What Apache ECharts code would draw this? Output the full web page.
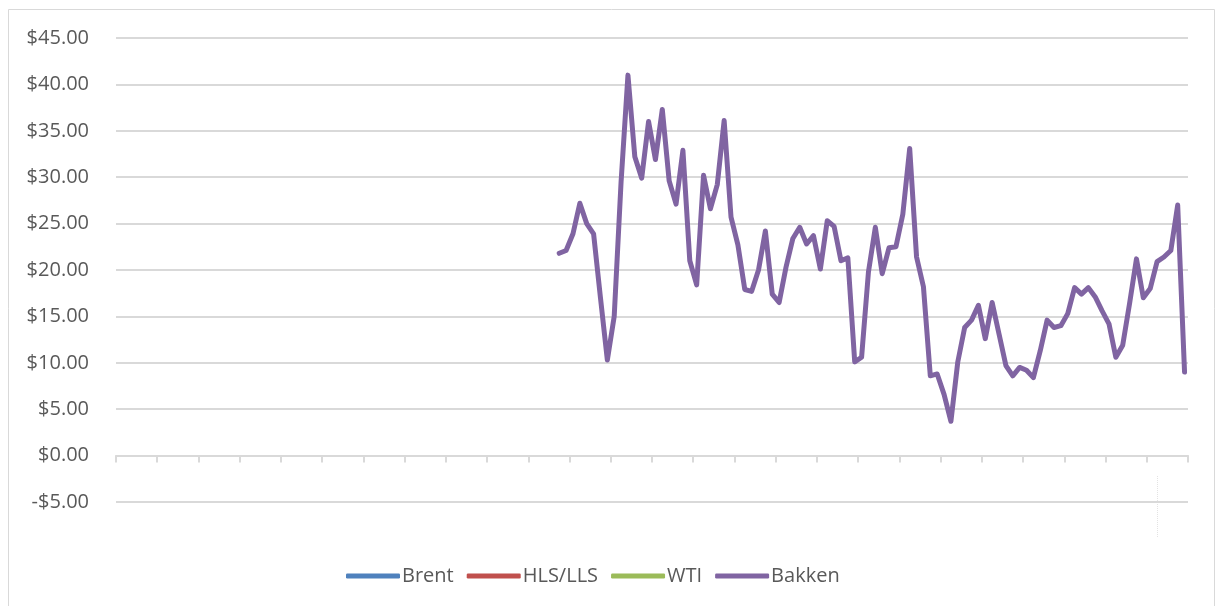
<!DOCTYPE html>
<html>
<head>
<meta charset="utf-8">
<title>Crude spreads</title>
<script src="https://cdn.jsdelivr.net/npm/echarts@6/dist/echarts.min.js"></script>
<style>
  html, body { margin: 0; padding: 0; background: #fff; }
  #main { width: 1217px; height: 606px; }
</style>
</head>
<body>
<div id="main"></div>
<script>
// monthly categories, axis labels are hidden in the original
var monthCount = 156;
var months = [];
for (var i = 0; i < monthCount; i++) months.push('M' + (i + 1));

// yaxis ticks
var yMin = -5, yMax = 45, yStep = 5;

// series - only Bakken has visible values
var brent = [];
var hlsLls = [];
var wti = [];
var bakkenStart = 64; // first month with a Bakken value
var bakkenVals = [
  21.8, 22.1, 23.9, 27.2, 25.0, 23.9, 17.0, 10.3, 15.0, 29.5,
  41.0, 32.2, 29.9, 36.0, 31.9, 37.3, 29.6, 27.1, 32.9, 21.0,
  18.4, 30.2, 26.6, 29.2, 36.1, 25.7, 22.7, 17.9, 17.7, 20.0,
  24.2, 17.4, 16.5, 20.3, 23.4, 24.6, 22.8, 23.7, 20.1, 25.3,
  24.7, 21.0, 21.3, 10.1, 10.6, 19.8, 24.6, 19.6, 22.4, 22.5,
  26.0, 33.1, 21.4, 18.2, 8.6, 8.8, 6.6, 3.7, 10.1, 13.8,
  14.6, 16.2, 12.6, 16.5, 13.1, 9.7, 8.6, 9.5, 9.2, 8.4,
  11.3, 14.6, 13.8, 14.0, 15.3, 18.1, 17.4, 18.1, 17.1, 15.6,
  14.2, 10.6, 11.9, 16.4, 21.2, 17.0, 18.0, 20.9, 21.4, 22.1,
  27.0, 9.0
];

var bakken = [];
for (var k = 0; k < bakkenStart; k++) bakken.push(null);
bakken = bakken.concat(bakkenVals);

var txtColor = '#595959';
var gridColor = '#d9d9d9';
var fontFam = '"Open Sans", "Noto Sans", sans-serif';

var lineSeries = function(name, data, color) {
  return {
    name: name,
    type: 'line',
    data: data,
    symbol: 'none',
    showSymbol: false,
    connectNulls: false,
    lineStyle: { color: color, width: 5, cap: 'round', join: 'round' },
    itemStyle: { color: color }
  };
};

var chart = echarts.init(document.getElementById('main'));
var option = {
  backgroundColor: '#fff',
  animation: false,
  textStyle: { fontFamily: fontFam },
  grid: { left: 116, right: 29, top: 38, bottom: 104, containLabel: false },
  graphic: [
    { type: 'rect', shape: { x: 8.5, y: 9.5, width: 1206, height: 600 },
      style: { fill: 'none', stroke: '#d9d9d9', lineWidth: 1 }, silent: true },
    { type: 'line', shape: { x1: 1157.5, y1: 476, x2: 1157.5, y2: 538 },
      style: { stroke: '#e3e3e3', lineWidth: 1, lineDash: [1, 1] }, silent: true }
  ],
  legend: {
    left: 341,
    top: 561,
    icon: 'roundRect',
    itemWidth: 54,
    itemHeight: 5,
    itemGap: 13,
    textStyle: { color: txtColor, fontSize: 20, fontFamily: fontFam, padding: [0, 0, 0, -3] },
    data: ['Brent', 'HLS/LLS', 'WTI', 'Bakken']
  },
  xAxis: {
    type: 'category',
    data: months,
    boundaryGap: true,
    axisLine: { onZero: true, lineStyle: { color: gridColor, width: 2 } },
    axisTick: { show: true, interval: 5, length: 7, lineStyle: { color: gridColor, width: 2 } },
    axisLabel: { show: false },
    splitLine: { show: false }
  },
  yAxis: {
    type: 'value',
    min: yMin,
    max: yMax,
    interval: yStep,
    axisLine: { show: false },
    axisTick: { show: false },
    axisLabel: {
      color: txtColor,
      fontSize: 20,
      margin: 27,
      formatter: function(v) {
        return (v < 0 ? '-$' : '$') + Math.abs(v).toFixed(2);
      }
    },
    splitLine: { lineStyle: { color: gridColor, width: 2 } }
  },
  series: [
    lineSeries('Brent', brent, '#4F81BD'),
    lineSeries('HLS/LLS', hlsLls, '#C0504D'),
    lineSeries('WTI', wti, '#9BBB59'),
    lineSeries('Bakken', bakken, '#8064A2')
  ]
};
chart.setOption(option);
</script>
</body>
</html>
